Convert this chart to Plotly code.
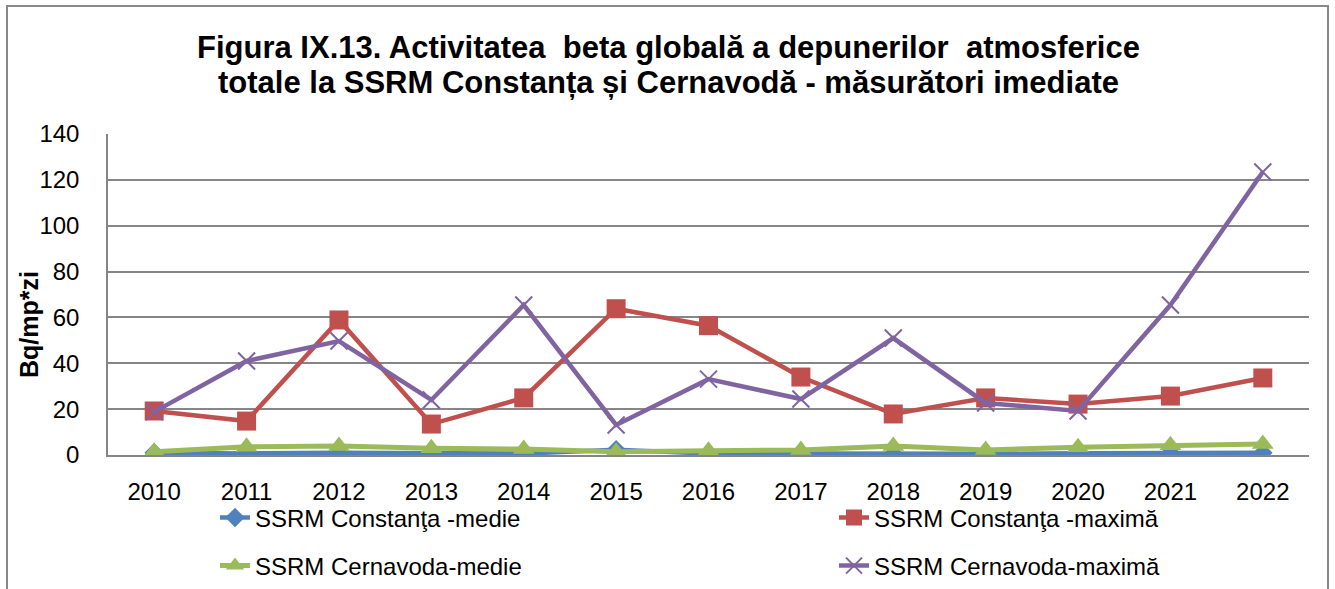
import plotly.graph_objects as go

years = ["2010", "2011", "2012", "2013", "2014", "2015", "2016", "2017", "2018", "2019", "2020", "2021", "2022"]
constanta_medie = [1.0, 0.7, 1.0, 0.8, 0.6, 2.3, 0.6, 0.6, 0.5, 0.5, 0.8, 1.0, 1.0]
constanta_maxima = [19.2, 14.8, 58.9, 13.5, 24.9, 63.8, 56.4, 34.0, 17.9, 24.9, 22.2, 25.7, 33.6]
cernavoda_medie = [1.4, 3.6, 3.9, 2.9, 2.6, 1.4, 1.9, 2.2, 3.9, 2.2, 3.4, 4.2, 4.8]
cernavoda_maxima = [18.8, 41.0, 49.7, 24.0, 65.4, 13.1, 33.1, 24.4, 51.0, 22.7, 19.2, 65.4, 123.4]

names = ["SSRM Constanţa -medie", "SSRM Constanţa -maximă", "SSRM Cernavoda-medie", "SSRM Cernavoda-maximă"]
colors = ["#4F81BD", "#C0504D", "#9BBB59", "#8064A2"]
title_lines = ["Figura IX.13. Activitatea \u00a0beta globală a depunerilor \u00a0atmosferice",
               "totale la SSRM Constanța și Cernavodă - măsurători imediate"]
y_title = "Bq/mp*zi"

W, H = 1335, 589
L, R, T, B = 108, 26, 134, 134
pw, ph = W - L - R, H - T - B

def px_x(x):
    return (x - L) / pw

def px_y(y):
    return (H - B - y) / ph

fig = go.Figure()
fig.add_trace(go.Scatter(x=years, y=constanta_medie, name=names[0], mode="lines+markers",
                         line=dict(color=colors[0], width=4.5),
                         marker=dict(symbol="diamond", size=15, color=colors[0]), legend="legend"))
fig.add_trace(go.Scatter(x=years, y=constanta_maxima, name=names[1], mode="lines+markers",
                         line=dict(color=colors[1], width=4.5),
                         marker=dict(symbol="square", size=19, color=colors[1]), legend="legend2"))
fig.add_trace(go.Scatter(x=years, y=cernavoda_medie, name=names[2], mode="lines+markers",
                         line=dict(color=colors[2], width=5),
                         marker=dict(symbol="triangle-up", size=19, color=colors[2]), legend="legend3"))
fig.add_trace(go.Scatter(x=years, y=cernavoda_maxima, name=names[3], mode="lines+markers",
                         line=dict(color=colors[3], width=4.5),
                         marker=dict(symbol="x-thin", size=17, color=colors[3],
                                     line=dict(color=colors[3], width=2)), legend="legend4"))

leg_common = dict(orientation="h", xanchor="left", yanchor="middle", visible=True,
                  font=dict(family="Liberation Sans", size=24, color="black"),
                  bgcolor="rgba(0,0,0,0)")

title_font = dict(family="Liberation Sans", size=31, color="black", weight="bold")
annotations = [
    dict(text=title_lines[0], x=px_x(668), xref="paper", y=px_y(48), yref="paper",
         xanchor="center", yanchor="middle", showarrow=False, font=title_font),
    dict(text=title_lines[1], x=px_x(668), xref="paper", y=px_y(82), yref="paper",
         xanchor="center", yanchor="middle", showarrow=False, font=title_font),
    dict(text=y_title, x=px_x(29), xref="paper", y=px_y(325), yref="paper",
         xanchor="center", yanchor="middle", showarrow=False, textangle=-90,
         font=dict(family="Liberation Sans", size=25, color="black", weight="bold")),
]

fig.update_layout(
    width=W, height=H, showlegend=True,
    margin=dict(l=L, r=R, t=T, b=B, autoexpand=False),
    paper_bgcolor="white", plot_bgcolor="white",
    annotations=annotations,
    legend=dict(x=px_x(215), y=px_y(518), **leg_common),
    legend2=dict(x=px_x(834), y=px_y(518), **leg_common),
    legend3=dict(x=px_x(215), y=px_y(566), **leg_common),
    legend4=dict(x=px_x(834), y=px_y(566), **leg_common),
    xaxis=dict(type="category", range=[-0.5, 12.5], showgrid=False, showline=True,
               linecolor="#868686", linewidth=1.5, ticks="", automargin=False,
               tickfont=dict(family="Liberation Sans", size=24, color="black"),
               ticklabelstandoff=14),
    yaxis=dict(range=[0, 140], dtick=20, showgrid=True, gridcolor="#868686", gridwidth=1.5,
               showline=True, linecolor="#868686", linewidth=1.5, ticks="", zeroline=False,
               automargin=False,
               tickfont=dict(family="Liberation Sans", size=24, color="black"),
               ticklabelstandoff=22),
    shapes=[dict(type="rect", xref="paper", yref="paper",
                 x0=px_x(7), x1=px_x(1328), y0=px_y(620), y1=px_y(6),
                 line=dict(color="#898989", width=2), fillcolor="rgba(0,0,0,0)", layer="below")],
)

fig.write_html("out.html", config={"displayModeBar": False},
               post_script="document.body.style.margin='0';")
